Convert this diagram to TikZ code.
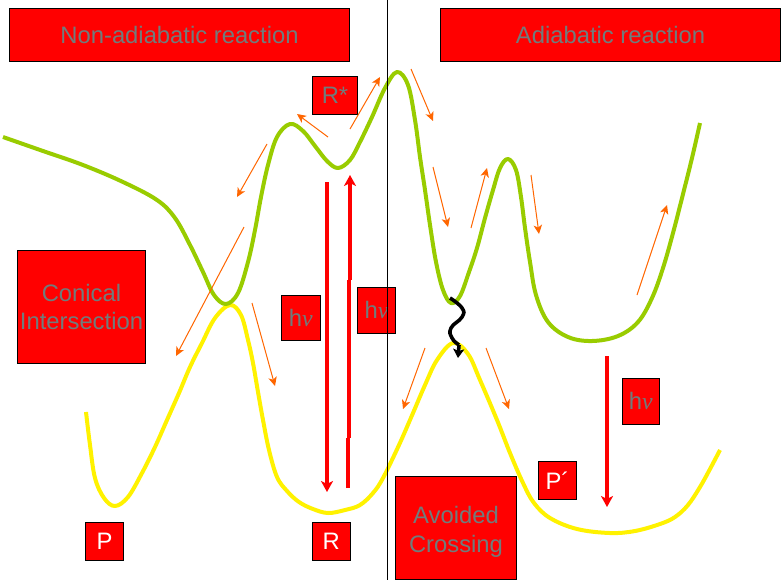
\documentclass[tikz,border=0pt]{standalone}
\usepackage{fontspec}
\setmainfont{Liberation Sans}
\newfontfamily\nufont{Liberation Serif}
\usetikzlibrary{arrows.meta}
\definecolor{txtgray}{HTML}{707C7C}
\definecolor{olivegreen}{HTML}{99CC00}
\definecolor{arroworange}{HTML}{FF6600}
\newcommand{\hnu}{h{\nufont\itshape\char"03BD}}
\tikzset{
  redbox/.style={draw=black,fill=red,line width=1pt,inner sep=0pt,align=center,text=txtgray,font=\fontsize{23.8}{28.5}\selectfont},
  whitelabel/.style={text=white},
  greencurve/.style={draw=olivegreen,line width=4pt,line join=round},
  yellowcurve/.style={draw=yellow,line width=4pt,line join=round},
  orangearrow/.style={draw=arroworange,line width=1pt,-{Stealth[length=9pt,width=8.5pt,inset=2.5pt]}},
  redarrow/.style={draw=red,line width=3.6pt,-{Stealth[length=11pt,width=12pt,inset=3pt]}},
  redshaft/.style={draw=red,line width=3.6pt},
  blackwave/.style={draw=black,line width=3.6pt},
  blacktip/.style={draw=black,line width=3.6pt,-{Stealth[length=9pt,width=11pt,inset=2pt]}},
  divider/.style={draw=black,line width=1pt},
}
\begin{document}
\begin{tikzpicture}[x=1pt,y=-1pt]
\useasboundingbox (0,0) rectangle (783,582);
\fill[white] (0,0) rectangle (783,582);

% curves
\draw[yellowcurve] plot[smooth,tension=0.6] coordinates {(86,412) (90,445) (95,478) (104,498) (115,506) (128,497) (142,473) (155,447) (167,420) (179,393) (190,367) (202,343) (215,318) (230,305) (241,315) (248,340) (253,363) (258,392) (263,420) (269,450) (277,477) (287,491) (299,502) (313,509) (328,513) (345,510) (360,505) (373,493) (383,478) (399,445) (413,413) (425,385) (437,360) (453,343) (468,354) (480,380) (497,420) (510,453) (523,483) (534,503) (550,518) (577,529) (610,533) (635,531) (660,524) (675,517) (688,505) (700,487) (710,469) (720,450)};
\draw[greencurve] plot[smooth,tension=0.6] coordinates {(3,137) (43,151) (83,165) (123,182) (157,200) (175,218) (190,245) (203,272) (214,295) (226,304) (238,293) (248,262) (255,230) (261,197) (268,165) (277,137) (290,124) (303,131) (315,146) (327,161) (338,168) (350,160) (360,142) (372,117) (385,88) (397,72) (408,85) (415,120) (420,157) (425,190) (430,225) (436,262) (443,290) (451,303) (460,296) (469,272) (477,248) (485,218) (493,190) (500,168) (508,159) (516,170) (521,197) (525,228) (530,262) (536,295) (548,322) (568,337) (592,341) (618,336) (638,322) (652,298) (663,268) (673,233) (682,198) (692,158) (700,123)};

% boxes
\node[redbox,minimum width=340pt,minimum height=52.5pt] (nonad) at (179.5,34.75) {Non-adiabatic reaction};
\node[redbox,minimum width=340pt,minimum height=52.5pt] (adiab) at (610.5,34.75) {Adiabatic reaction};
\node[redbox,minimum width=45pt,minimum height=37.5pt] (rstar) at (335,95.25) {R*};
\node[redbox,minimum width=128pt,minimum height=113pt] (conical) at (81.5,307) {\rule{0pt}{17.5pt}Conical\\Intersection};
\node[redbox,minimum width=38.5pt,minimum height=45pt] (hnua) at (300.75,318) {\hnu};
\node[redbox,minimum width=38pt,minimum height=45.5pt] (hnub) at (376.5,310.25) {\hnu};
\node[redbox,minimum width=37.5pt,minimum height=45.5pt] (hnuc) at (640.75,401.25) {\hnu};
\node[redbox,whitelabel,minimum width=38pt,minimum height=38pt] (prod) at (104.5,541.5) {P};
\node[redbox,whitelabel,minimum width=37.5pt,minimum height=38pt] (react) at (331.25,541.5) {R};
\node[redbox,whitelabel,minimum width=38pt,minimum height=38pt] (prodb) at (557.5,480.5) {P´};
\node[redbox,minimum width=121pt,minimum height=102.5pt] (avoided) at (456,527.75) {\rule{0pt}{25pt}Avoided\\Crossing};

% divider
\coordinate (divtop) at (387.5,0);
\coordinate (divbot) at (387.5,580);
\draw[divider] (divtop) -- (divbot);

% red arrows
\coordinate (ra1) at (327,182); \coordinate (ra2) at (327,492);
\coordinate (rb1) at (607,356); \coordinate (rb2) at (607,507);
\coordinate (rc1) at (348,488); \coordinate (rc2) at (348,438);
\coordinate (rc3) at (349,438); \coordinate (rc4) at (349,280);
\coordinate (rc5) at (350,280); \coordinate (rc6) at (350,175);
\draw[redarrow] (ra1) -- (ra2);
\draw[redarrow] (rb1) -- (rb2);
\draw[redshaft] (rc1) -- (rc2);
\draw[redshaft] (rc3) -- (rc4);
\draw[redarrow] (rc5) -- (rc6);

% orange arrows
\coordinate (oa1) at (328,137); \coordinate (oa2) at (297,114);
\coordinate (ob1) at (350,129); \coordinate (ob2) at (380,77);
\coordinate (oc1) at (267,144); \coordinate (oc2) at (237,197);
\coordinate (od1) at (411,69);  \coordinate (od2) at (433,121);
\coordinate (oe1) at (433,167); \coordinate (oe2) at (448,227);
\coordinate (of1) at (471,228); \coordinate (of2) at (487,168);
\coordinate (og1) at (531,175); \coordinate (og2) at (539,234);
\coordinate (oh1) at (637,295); \coordinate (oh2) at (667,205);
\coordinate (oi1) at (244,227); \coordinate (oi2) at (176,356);
\coordinate (oj1) at (252,303); \coordinate (oj2) at (275,386);
\coordinate (ok1) at (425,348); \coordinate (ok2) at (403,409);
\coordinate (ol1) at (486,348); \coordinate (ol2) at (509,409);
\draw[orangearrow] (oa1) -- (oa2);
\draw[orangearrow] (ob1) -- (ob2);
\draw[orangearrow] (oc1) -- (oc2);
\draw[orangearrow] (od1) -- (od2);
\draw[orangearrow] (oe1) -- (oe2);
\draw[orangearrow] (of1) -- (of2);
\draw[orangearrow] (og1) -- (og2);
\draw[orangearrow] (oh1) -- (oh2);
\draw[orangearrow] (oi1) -- (oi2);
\draw[orangearrow] (oj1) -- (oj2);
\draw[orangearrow] (ok1) -- (ok2);
\draw[orangearrow] (ol1) -- (ol2);

% wavy arrow
\coordinate (wv1) at (459,345); \coordinate (wv2) at (458,358);
\draw[blackwave] plot[smooth,tension=0.8] coordinates {(450,298) (462,308) (462,317) (451,328) (452,338) (459,345)};
\draw[blacktip] (wv1) -- (wv2);
\end{tikzpicture}
\end{document}
